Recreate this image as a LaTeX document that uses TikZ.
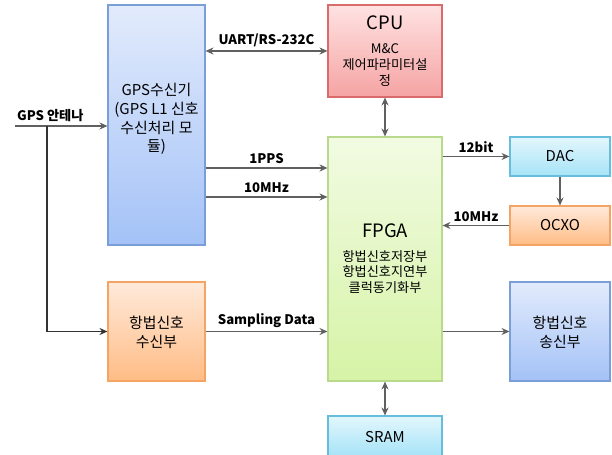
\documentclass[tikz,border=0pt]{standalone}
\usepackage{fontspec}
\setmainfont{Noto Sans CJK KR}
\usetikzlibrary{arrows.meta,calc,positioning}

\definecolor{gpsTop}{HTML}{E2EBFC}
\definecolor{gpsBot}{HTML}{A4C2F7}
\definecolor{gpsLine}{HTML}{7A9FD8}
\definecolor{cpuTop}{HTML}{FFE2E2}
\definecolor{cpuBot}{HTML}{F5A3A3}
\definecolor{cpuLine}{HTML}{D96B6B}
\definecolor{fpgaTop}{HTML}{F2FBE3}
\definecolor{fpgaBot}{HTML}{D6F3A6}
\definecolor{fpgaLine}{HTML}{B9D98D}
\definecolor{dacTop}{HTML}{E3F7FD}
\definecolor{dacBot}{HTML}{A6E3F7}
\definecolor{dacLine}{HTML}{66BEDC}
\definecolor{oscTop}{HTML}{FFEADB}
\definecolor{oscBot}{HTML}{FFBC85}
\definecolor{oscLine}{HTML}{F5A463}
\definecolor{wire}{HTML}{606060}

\begin{document}
\begin{tikzpicture}[
  box/.style={rectangle,draw,line width=0.65pt,inner sep=0pt},
  bluebox/.style={box,draw=gpsLine,top color=gpsTop,bottom color=gpsBot},
  redbox/.style={box,draw=cpuLine,top color=cpuTop,bottom color=cpuBot},
  greenbox/.style={box,draw=fpgaLine,top color=fpgaTop,bottom color=fpgaBot},
  cyanbox/.style={box,draw=dacLine,top color=dacTop,bottom color=dacBot},
  orangebox/.style={box,draw=oscLine,top color=oscTop,bottom color=oscBot},
  boxtext/.style={align=center,font=\fontsize{8.5}{10.6}\selectfont},
  subtext/.style={align=center,font=\fontsize{7.5}{8.9}\selectfont},
  title/.style={font=\fontsize{10.5}{12}\selectfont},
  sig/.style={font=\fontsize{7.5}{9}\selectfont\bfseries,inner sep=1pt},
  wire/.style={draw=wire,line width=0.6pt,-{Stealth[length=4.5pt,width=4pt]}},
  biwire/.style={draw=wire,line width=0.6pt,{Stealth[length=4.5pt,width=4pt]}-{Stealth[length=4.5pt,width=4pt]}}]
\useasboundingbox (0,0) rectangle (12.24,-9.1);

% blocks
\node[bluebox,minimum width=1.94cm,minimum height=4.8cm] at (3.13,-2.5) (gps) {};
\node[redbox,minimum width=2.28cm,minimum height=1.84cm] at (7.7,-1.02) (cpu) {};
\node[greenbox,minimum width=2.28cm,minimum height=4.88cm] at (7.7,-5.18) (fpga) {};
\node[cyanbox,minimum width=2cm,minimum height=0.78cm] at (11.2,-3.13) (dac) {};
\node[orangebox,minimum width=2cm,minimum height=0.78cm] at (11.2,-4.51) (ocxo) {};
\node[orangebox,minimum width=1.94cm,minimum height=1.98cm] at (3.13,-6.63) (rx) {};
\node[bluebox,minimum width=2cm,minimum height=1.98cm] at (11.2,-6.63) (tx) {};
\node[cyanbox,minimum width=2.28cm,minimum height=0.8cm] at (7.7,-8.72) (sram) {};

% texts in blocks
\node[boxtext] at (3.13,-2.38) (gpstext) {GPS수신기\\(GPS L1 신호\\수신처리 모\\듈)};
\node[title] at (7.7,-0.46) (cputitle) {CPU};
\node[subtext] at (7.7,-1.3) (cpusub) {M\&C\\제어파라미터설\\정};
\node[title] at (7.7,-4.62) (fpgatitle) {FPGA};
\node[subtext] at (7.7,-5.44) (fpgasub) {항법신호저장부\\항법신호지연부\\클럭동기화부};
\node[boxtext] at (11.2,-3.13) (dactext) {DAC};
\node[boxtext] at (11.2,-4.51) (ocxotext) {OCXO};
\node[boxtext] at (3.13,-6.65) (rxtext) {항법신호\\수신부};
\node[boxtext] at (11.2,-6.65) (txtext) {항법신호\\송신부};
\node[boxtext] at (7.7,-8.75) (sramtext) {SRAM};

% signal levels
\coordinate (ant) at (0.3,-2.52);
\coordinate (tap) at (0.94,-2.52);
\coordinate (pps) at (0,-3.36);
\coordinate (ref) at (0,-3.94);

% connectors
\draw[biwire] (cpu.west -| gps.east) -- node[sig,above=1pt] {UART/RS-232C} (cpu.west);
\draw[wire] (gps.east |- pps) -- node[sig,above=1pt] {1PPS} (fpga.west |- pps);
\draw[wire] (gps.east |- ref) -- node[sig,above=1pt] {10MHz} (fpga.west |- ref);
\draw[biwire] (cpu.south) -- (fpga.north);
\draw[biwire] (fpga.south) -- (sram.north);
\draw[wire] (fpga.east |- dac.west) -- node[sig,above=1pt] {12bit} (dac.west);
\draw[wire] (dac.south) -- (ocxo.north);
\draw[wire] (ocxo.west) -- node[sig,above=1pt] {10MHz} (ocxo.west -| fpga.east);
\draw[wire] (rx.east) -- node[sig,above=1pt] {Sampling Data} (rx.east -| fpga.west);
\draw[wire] (fpga.east |- tx.west) -- (tx.west);
\draw[wire] (ant) -- (ant -| gps.west);
\draw[wire,draw=black!80] (tap) |- (rx.west);
\node[sig,anchor=south west] at ([yshift=1pt]ant) (antlabel) {GPS 안테나};
\end{tikzpicture}
\end{document}
